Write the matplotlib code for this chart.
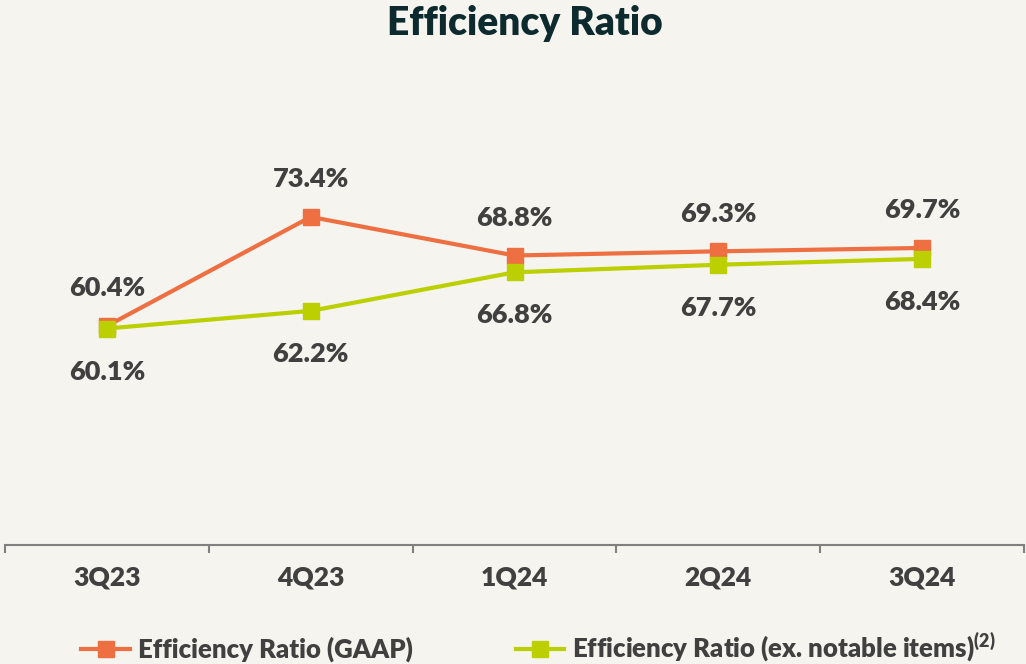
import matplotlib.pyplot as plt

quarters = ["3Q23", "4Q23", "1Q24", "2Q24", "3Q24"]
gaap = [60.4, 73.4, 68.8, 69.3, 69.7]
ex_notable = [60.1, 62.2, 66.8, 67.7, 68.4]

bg = "#f5f4ee"
orange = "#ee6f41"
lime = "#bccf00"
txt = "#404040"
W = "heavy"

plt.rcParams["font.family"] = ["Lato", "DejaVu Sans"]
plt.rcParams["font.weight"] = W
plt.rcParams["mathtext.fontset"] = "custom"
plt.rcParams["mathtext.rm"] = "Lato:heavy"
plt.rcParams["mathtext.it"] = "Lato:heavy"
plt.rcParams["mathtext.bf"] = "Lato:heavy"

fig = plt.figure(figsize=(10.26, 6.64), dpi=100, facecolor=bg)
ax = fig.add_axes([5 / 1026, 1 - 545 / 664, 1019 / 1026, 485 / 664])
ax.set_facecolor(bg)

x = list(range(len(quarters)))
l1, = ax.plot(x, gaap, color=orange, lw=3, marker="s", ms=12,
              label="Efficiency Ratio (GAAP)", zorder=3)
l2, = ax.plot(x, ex_notable, color=lime, lw=3, marker="s", ms=12,
              label="Efficiency Ratio (ex. notable items)$^{(2)}$", zorder=4)

for i, v in enumerate(gaap):
    ax.annotate(f"{v:.1f}%", (i, v), xytext=(0, 27), textcoords="offset points",
                ha="center", va="center", fontsize=19.5, color=txt, fontweight=W)
for i, v in enumerate(ex_notable):
    ax.annotate(f"{v:.1f}%", (i, v), xytext=(0, -31), textcoords="offset points",
                ha="center", va="center", fontsize=19.5, color=txt, fontweight=W)

ax.set_xlim(-0.5, 4.5)
ax.set_ylim(34.3, 92.1)
ax.set_yticks([])
for s in ["top", "right", "left"]:
    ax.spines[s].set_visible(False)
ax.spines["bottom"].set_color("#808080")
ax.spines["bottom"].set_linewidth(1.5)

ax.set_xticks([i - 0.5 for i in range(len(quarters) + 1)], minor=False)
ax.set_xticklabels([])
ax.tick_params(axis="x", which="major", length=6, width=1.5, color="#808080")
ax.set_xticks(x, minor=True)
ax.set_xticklabels(quarters, minor=True, fontsize=19, color=txt, fontweight=W)
ax.tick_params(axis="x", which="minor", length=0, pad=15)

fig.text(0.512, 0.965, "Efficiency Ratio", ha="center", va="center",
         fontsize=28, fontweight=W, color="#0d2b2e")

leg = fig.legend(handles=[l1, l2], loc="center", bbox_to_anchor=(0.525, 0.025),
                 ncol=2, frameon=False, fontsize=18.5, handlelength=1.9,
                 columnspacing=4.0, handletextpad=0.3, markerscale=1.0)
for t in leg.get_texts():
    t.set_color(txt)
    t.set_fontweight(W)

fig.savefig("out.png", dpi=100, facecolor=bg)
